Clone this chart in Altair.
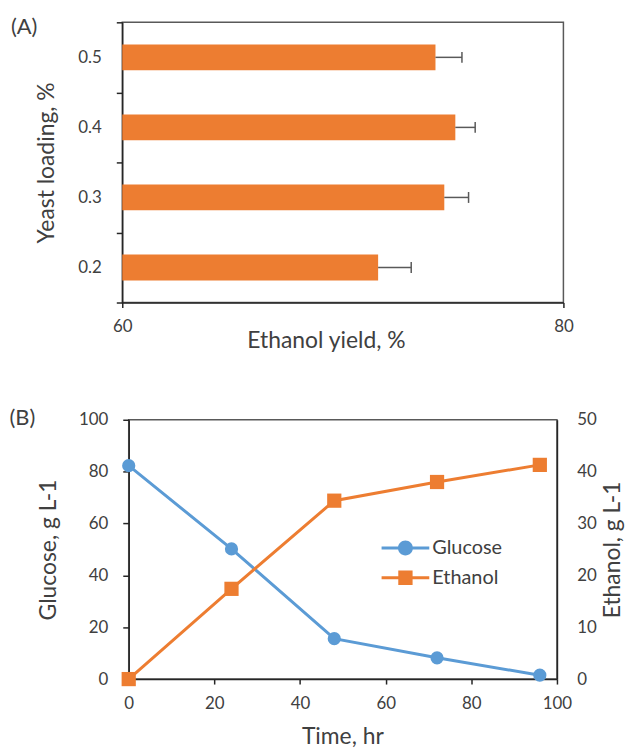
import altair as alt
import pandas as pd

# ---- Panel A data ----
yeast_loading = ["0.5", "0.4", "0.3", "0.2"]
ethanol_yield = [74.2, 75.1, 74.6, 71.6]
yield_error = [1.2, 0.9, 1.1, 1.5]

# ---- Panel B data ----
time_hr = [0, 24, 48, 72, 96]
glucose = [82.3, 50.2, 15.6, 8.2, 1.5]
ethanol = [0.0, 17.4, 34.4, 38.0, 41.3]

legend_labels = ["Glucose", "Ethanol"]
panel_labels = ["(A)", "(B)"]

FONT = "Lato"
TEXT = "#404040"
AXIS = "#262626"
ORANGE = "#ED7D31"
BLUE = "#5B9BD5"
ERR = "#595959"

dfa = pd.DataFrame({"loading": yeast_loading, "yield": ethanol_yield, "err": yield_error})
dfa["upper"] = dfa["yield"] + dfa["err"]

xa_scale = alt.Scale(domain=[60, 80], nice=False, zero=False)
xa_axis = alt.Axis(title="Ethanol yield, %", values=[60, 80], tickSize=5, labelPadding=11,
                   labelFlush=False, titleX=205, titleY=38, titleBaseline="middle")
ya_enc = alt.Y("loading:N", sort=yeast_loading,
               scale=alt.Scale(paddingInner=0, paddingOuter=0),
               axis=alt.Axis(title="Yeast loading, %", tickBand="extent", tickSize=6,
                             labelPadding=15, titlePadding=19, labelFlush=False))

bars = alt.Chart(dfa).mark_bar(size=26, color=ORANGE).encode(
    y=ya_enc,
    x=alt.X("yield:Q", scale=xa_scale, axis=xa_axis),
    x2=alt.datum(60),
)
err_rule = alt.Chart(dfa).mark_rule(color=ERR, strokeWidth=1.5).encode(
    y=ya_enc,
    x=alt.X("yield:Q", scale=xa_scale, axis=xa_axis),
    x2="upper:Q",
)
err_cap = alt.Chart(dfa).mark_tick(color=ERR, thickness=1.5, size=11, opacity=1).encode(
    y=ya_enc,
    x=alt.X("upper:Q", scale=xa_scale, axis=xa_axis),
)
label_a = alt.Chart(pd.DataFrame({"label": [panel_labels[0]]})).mark_text(
    align="left", baseline="middle", fontSize=22, font=FONT, color=TEXT
).encode(x=alt.value(-112), y=alt.value(5), text="label:N")

panel_a = alt.layer(bars, err_rule, err_cap, label_a).properties(width=444, height=282)

# ---- Panel B ----
dfb = pd.DataFrame({"time": time_hr, "glucose": glucose, "ethanol": ethanol})

xb = alt.X("time:Q", scale=alt.Scale(domain=[0, 100], nice=False),
           axis=alt.Axis(title="Time, hr", values=[0, 20, 40, 60, 80, 100], tickSize=5,
                         labelPadding=12, labelFlush=False, titleX=215, titleY=58,
                         titleBaseline="middle"))
yg = alt.Y("glucose:Q", scale=alt.Scale(domain=[0, 100], nice=False),
           axis=alt.Axis(orient="left", title="Glucose, g L-1", values=[0, 20, 40, 60, 80, 100],
                         tickSize=6, labelPadding=15, titlePadding=18, labelFlush=False))
ye = alt.Y("ethanol:Q", scale=alt.Scale(domain=[0, 50], nice=False),
           axis=alt.Axis(orient="right", title="Ethanol, g L-1", values=[0, 10, 20, 30, 40, 50],
                         ticks=False, tickSize=0, labelPadding=20, titlePadding=5,
                         titleAngle=270, titleBaseline="top", labelFlush=False))

base = alt.Chart(dfb)
gl = alt.layer(
    base.mark_line(color=BLUE, strokeWidth=3).encode(x=xb, y=yg),
    base.mark_point(shape="circle", filled=True, size=177, color=BLUE, opacity=1).encode(x=xb, y=yg),
)
et = alt.layer(
    base.mark_line(color=ORANGE, strokeWidth=3).encode(x=xb, y=ye),
    base.mark_point(shape="square", filled=True, size=205, color=ORANGE, opacity=1).encode(x=xb, y=ye),
)

path_circle = ("M-3.2,-0.2 L3.2,-0.2 L3.2,0.2 L-3.2,0.2 Z "
               "M1,0 A1,1 0 1,1 -1,0 A1,1 0 1,1 1,0 Z")
path_square = ("M-3.2,-0.2 L3.2,-0.2 L3.2,0.2 L-3.2,0.2 Z "
               "M-0.96,-0.96 L0.96,-0.96 L0.96,0.96 L-0.96,0.96 Z")

leg = alt.Legend(title=None, orient="none", legendX=275, legendY=519, symbolSize=225,
                 symbolStrokeWidth=0, symbolOpacity=1, labelFont=FONT, labelFontSize=20,
                 labelColor=TEXT, labelOffset=17, rowPadding=10, padding=0)
legend_layer = alt.Chart(pd.DataFrame({"series": legend_labels})).transform_filter(
    "false"
).mark_point(filled=True, opacity=1).encode(
    color=alt.Color("series:N", scale=alt.Scale(domain=legend_labels, range=[BLUE, ORANGE]), legend=leg),
    shape=alt.Shape("series:N", scale=alt.Scale(domain=legend_labels, range=[path_circle, path_square]), legend=leg),
)
label_b = alt.Chart(pd.DataFrame({"label": [panel_labels[1]]})).mark_text(
    align="left", baseline="middle", fontSize=22, font=FONT, color=TEXT
).encode(x=alt.value(-120), y=alt.value(-2), text="label:N")

panel_b = alt.layer(gl, et, legend_layer, label_b).resolve_scale(y="independent").properties(
    width=431, height=261)

chart = alt.vconcat(panel_a, panel_b, spacing=118, bounds="flush", center=True).properties(
    padding={"left": 0, "top": 2, "right": 2, "bottom": 4}
).configure_axis(
    labelFont=FONT, titleFont=FONT, labelColor=TEXT, titleColor=TEXT,
    labelFontSize=17, titleFontSize=23, titleFontWeight="normal",
    domainColor=AXIS, tickColor=AXIS, domainWidth=1.5, tickWidth=1.5, grid=False,
).configure_view(stroke="#595959", strokeWidth=1.5)

chart.save("out.html", embed_options={"renderer": "svg", "actions": False})
